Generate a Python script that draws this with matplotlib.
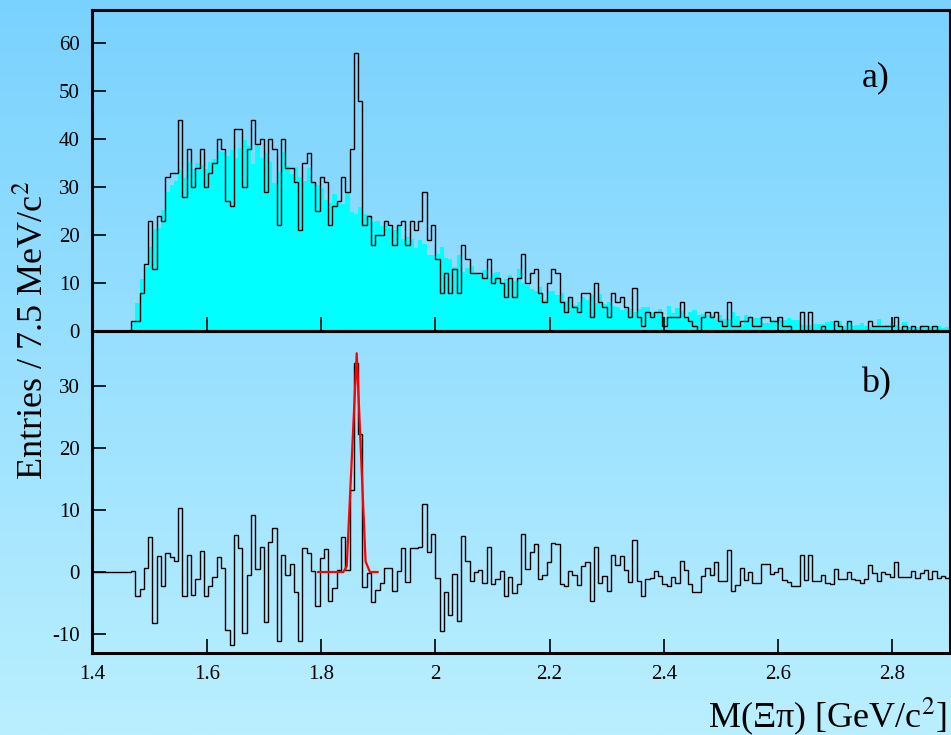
import numpy as np
import matplotlib
matplotlib.use("Agg")
import matplotlib.pyplot as plt

# M(Xi pi) spectrum, 7.5 MeV bins from 1.4 to 2.9 GeV
m_lo, m_hi, bin_w = 1.4, 2.9, 0.0075

# a) entries per bin (black histogram)
counts_a = (
    [0] * 9
    + [2, 2, 8, 14, 23, 13, 24, 23, 32, 33,
       33, 44, 28, 38, 30, 34, 38, 30, 33, 35,
       40, 38, 27, 26, 42, 42, 30, 38, 44, 39,
       40, 29, 40, 38, 22, 40, 34, 34, 31, 21,
       35, 37]
    + [31, 25, 32, 31, 22, 26, 27, 32, 29,
       38, 58, 48, 22, 24, 18, 20, 20, 23, 22,
       18, 22, 23, 18, 23, 21, 23, 29, 19, 22,
       15, 8, 12, 8, 13, 8, 18, 15, 12, 12,
       12, 11, 15, 10, 11, 10, 7, 11, 7, 11]
    + [16, 10, 12, 13, 8, 6, 10, 13, 12, 6,
       4, 7, 5, 4, 8, 8, 3, 10, 6, 5,
       3, 8, 6, 7, 5, 3, 9, 3, 1, 4,
       3, 4, 4, 1, 3, 3, 3, 6, 3, 2,
       1, 0, 3, 4, 3, 4, 2, 1, 6]
    + [1,
       1, 2, 2, 3, 1, 1, 3, 3, 2, 2,
       3, 1, 1, 0, 0, 4, 0, 4, 0, 0,
       1, 0, 0, 2, 1, 0, 2, 0, 0, 0,
       0, 2, 1, 1, 1, 1, 1, 3, 0, 1,
       0, 1, 0, 1, 1, 0, 1, 0, 0, 0]
)

# b) background subtracted entries
diff_b = (
    [0.0] * 9
    + [0.2, -3.8, -2.8, 0.6, 5.6, -8.3, 2.6, -2.2, 3.0, 2.5,
       1.8, 10.4, -3.9, 2.8, -3.7, -1.1, 3.4, -3.8, -2.3, -0.8,
       2.4, 0.6, -9.4, -11.7, 5.9, 3.9, -9.9, -0.5, 9.2, 0.5,
       4.0, -8.0, 4.8, 7.1, -11.2, 2.7, -0.4, 1.3, -3.2, -11.1,
       3.8, 3.1]
    + [0.1, -5.4, 2.3, 3.7, -4.6, -2.5, 0.3, 5.6, 0.3,
       13.3, 33.7, 22.2, -2.4, -0.2, -4.8, -2.9, -1.8, 0.6, 0.6,
       -3.0, 0.2, 3.8, -1.6, 3.8, 3.8, 4.0, 10.9, 3.2, 6.1,
       -1.0, -9.5, -3.2, -6.9, -0.3, -7.9, 5.8, 1.8, -1.5, 0.05,
       0.4, -1.8, 4.0, -2.0, -1.2, 0.1, -3.8, -0.75, -3.4, -2.0]
    + [6.1, 0.5, 3.3, 4.6, -1.1, -0.5, 1.6, 4.7, 4.6, -2.0,
       -2.3, 0.2, -0.5, -2.1, 1.0, 1.6, -4.6, 4.1, -1.8, -0.7,
       -3.0, 2.7, 1.1, 2.6, 0.4, -1.6, 5.1, -1.5, -3.9, -1.1,
       -1.0, 0.2, -0.6, -1.9, -2.3, -0.8, -1.8, 1.8, 0.4, -2.0,
       -3.3, -3.3, -0.6, 0.7, -0.4, 1.6, -1.4, -1.4, 3.5]
    + [-3.0,
       -2.1, 0.6, -1.3, 0.05, -1.7, -1.7, 1.3, 1.3, -0.3, 0.05,
       0.7, -1.3, -1.6, -2.3, -2.3, 2.8, -1.3, 2.8, -1.4, -1.5,
       -0.4, -1.8, -2.0, 0.5, -1.1, -1.1, 0.05, -1.1, -1.3, -1.7,
       -1.1, 1.1, -0.1, -1.5, 0.05, -0.3, -0.75, 1.7, -0.8, -0.8,
       -0.8, 0.2, -0.9, -0.1, 0.3, -1.1, 0.2, -1.0, -0.6, -0.9]
)

# gaussian fit to the peak, as drawn
fit_x = [1.795, 1.839, 1.845, 1.8625, 1.878, 1.8857, 1.899]
fit_y = [0.0, 0.0, 0.9, 35.3, 1.7, 0.0, 0.0]

xticks = [1.4, 1.6, 1.8, 2.0, 2.2, 2.4, 2.6, 2.8]
xtick_labels = ["1.4", "1.6", "1.8", "2", "2.2", "2.4", "2.6", "2.8"]
yticks_a = [0, 10, 20, 30, 40, 50, 60]
yticks_b = [-10, 0, 10, 20, 30]

counts_a = np.array(counts_a, dtype=float)
diff_b = np.array(diff_b)
background = np.clip(counts_a - diff_b, 0, None)
edges = m_lo + bin_w * np.arange(len(counts_a) + 1)

plt.rcParams["font.family"] = ["Liberation Serif", "DejaVu Serif"]
plt.rcParams["mathtext.fontset"] = "stix"
plt.rcParams["axes.unicode_minus"] = False

fig = plt.figure(figsize=(9.51, 7.35), dpi=100)

# blue gradient background
top_col = np.array([121, 210, 254]) / 255
bot_col = np.array([186, 239, 255]) / 255
t = np.linspace(0, 1, 256)[:, None, None]
grad = top_col + (bot_col - top_col) * t
ax_bg = fig.add_axes([0, 0, 1, 1], zorder=-10)
ax_bg.imshow(grad, aspect="auto", extent=[0, 1, 0, 1])
ax_bg.axis("off")

axA = fig.add_axes([0.0972, 0.5497, 0.9013, 0.4367], facecolor="none")
axB = fig.add_axes([0.0972, 0.1121, 0.9013, 0.4376], facecolor="none")

axA.stairs(background, edges, fill=True, color="#00ffff", lw=0)
axA.stairs(counts_a, edges, color="black", lw=1.0, baseline=None)
axA.set_xlim(m_lo, m_hi)
axA.set_ylim(0, 66.9)
axA.set_yticks(yticks_a)
axA.set_xticks(xticks)
axA.tick_params(labelbottom=False)

axB.stairs(diff_b, edges, color="black", lw=1.0, baseline=None)
axB.plot(fit_x, fit_y, color="red", lw=1.6)
axB.set_xlim(m_lo, m_hi)
axB.set_ylim(-13.0, 38.9)
axB.set_yticks(yticks_b)
axB.set_xticks(xticks)
axB.set_xticklabels(xtick_labels)

for ax in (axA, axB):
    ax.tick_params(direction="in", length=10, width=1.2, labelsize=15,
                   pad=9, top=False, right=False)
    for s in ax.spines.values():
        s.set_linewidth(2.2)
axB.tick_params(axis="x", pad=9)

axA.text(0.914, 0.788, "a)", transform=axA.transAxes, fontsize=26,
         ha="center", va="center")
axB.text(0.914, 0.835, "b)", transform=axB.transAxes, fontsize=26,
         ha="center", va="center")

fig.text(0.9955, 0.011, "M(\u039e\u03c0) [GeV/c$^2$]", ha="right",
         va="baseline", fontsize=26)
fig.text(0.036, 0.551, "Entries / 7.5 MeV/c$^2$", rotation=90,
         ha="center", va="center", fontsize=26)

fig.savefig("out.png", dpi=100)
